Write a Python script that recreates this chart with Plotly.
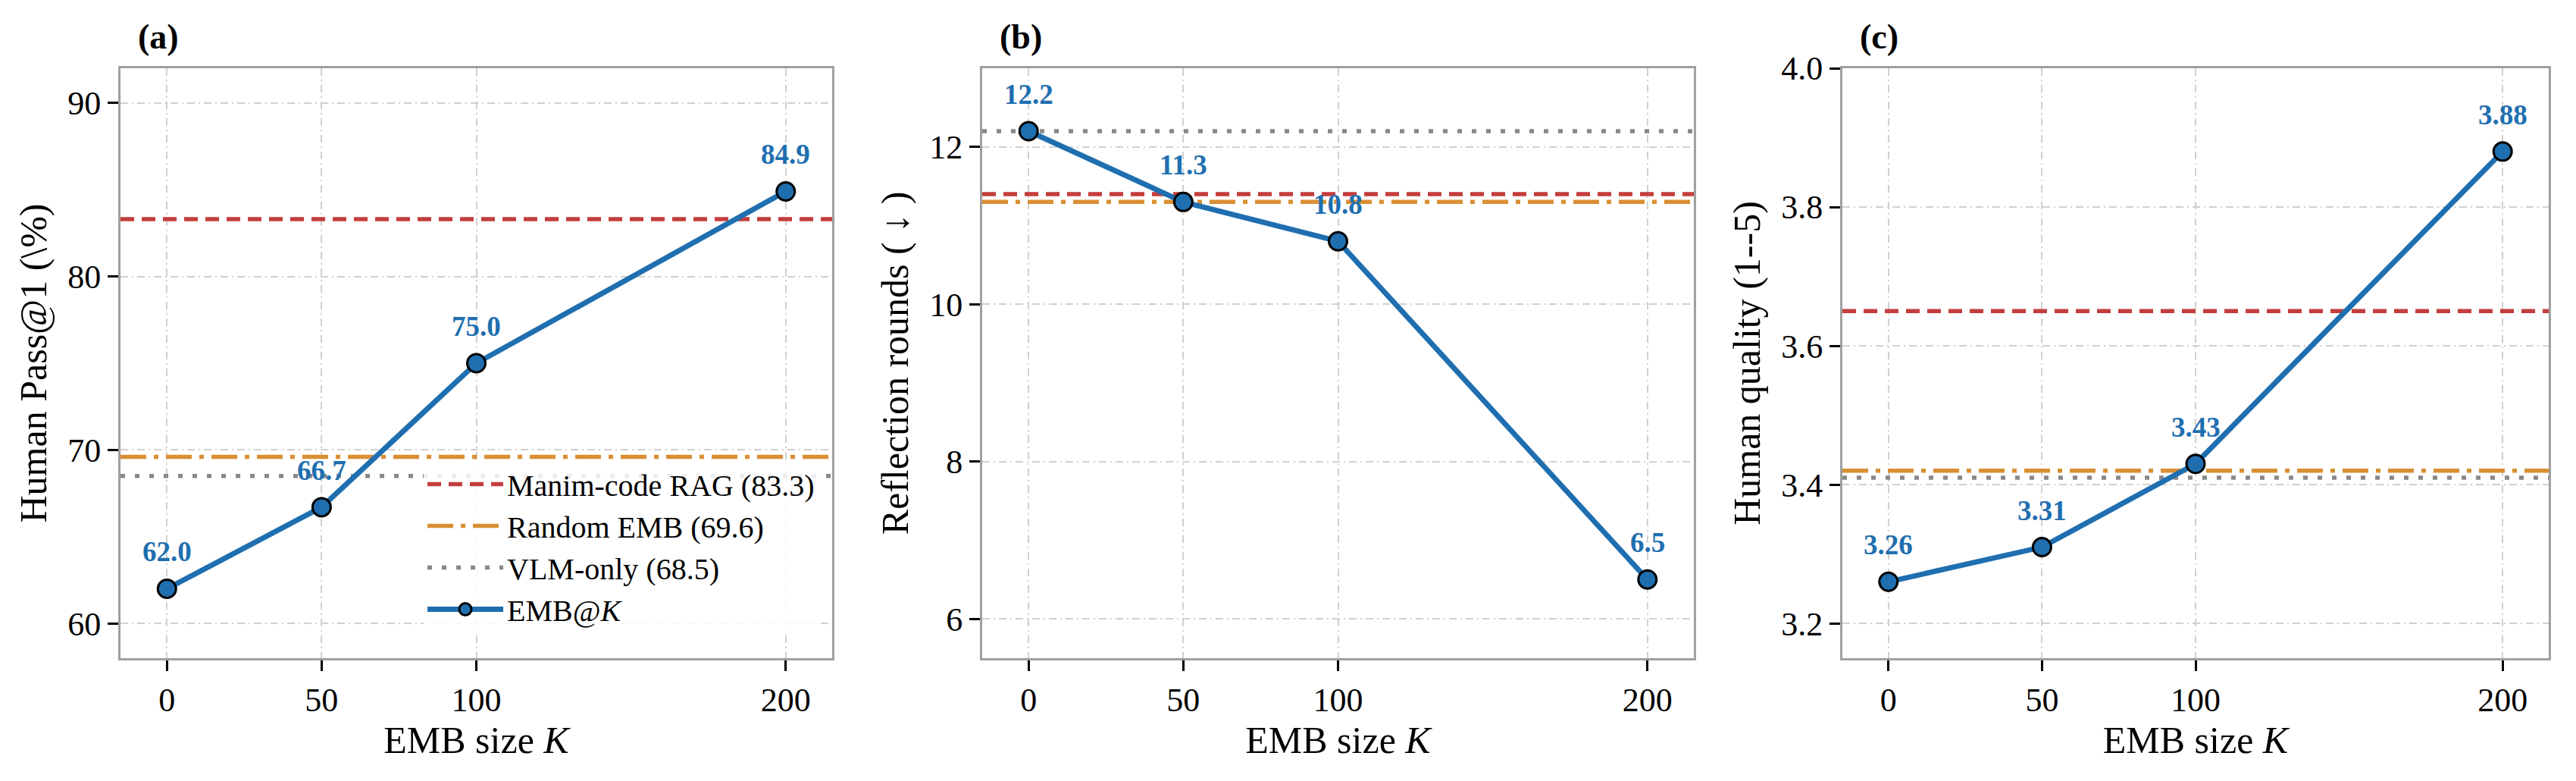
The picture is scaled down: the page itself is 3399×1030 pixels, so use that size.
import plotly.graph_objects as go

# ---------------- data ----------------
K_SIZES = [0, 50, 100, 200]

PASS_AT_1 = [62.0, 66.7, 75.0, 84.9]
REFLECTION_ROUNDS = [12.2, 11.3, 10.8, 6.5]
HUMAN_QUALITY = [3.26, 3.31, 3.43, 3.88]

BASELINE_NAMES = ["Manim-code RAG", "Random EMB", "VLM-only"]
BASE_PASS = [83.3, 69.6, 68.5]
BASE_ROUNDS = [11.4, 11.3, 12.2]
BASE_QUALITY = [3.65, 3.42, 3.41]

PANEL_TITLES = ["(a)", "(b)", "(c)"]
Y_TITLES = ["Human Pass@1 (\\%)", "Reflection rounds ( \u2193 )", "Human quality (1--5)"]
X_TITLE = "EMB size <i>K</i>"
LABEL_FMT = ["{:.1f}", "{:.1f}", "{:.2f}"]

X_TICKS = [0, 50, 100, 200]
Y_TICKS = [[60, 70, 80, 90], [6, 8, 10, 12], [3.2, 3.4, 3.6, 3.8, 4.0]]
Y_TICKFMT = ["d", "d", ".1f"]

X_RANGE = [-15, 215]
Y_RANGES = [[58, 92], [5.5, 13.0], [3.15, 4.0]]

# ---------------- style ----------------
W, H = 3399, 1030
FONT = "Liberation Serif"
BLUE = "#1f6fb0"
BASE_COLORS = ["#c43d3d", "#d98f33", "#888888"]
BASE_DASH = ["18px,10px", "34px,10px,6px,10px", "6px,13px"]
GRID = "#d0d0d0"
SPINE = "#a0a0a0"

X_DOMAINS = [[159 / W, 1098 / W], [1296 / W, 2235 / W], [2431 / W, 3363 / W]]
Y_DOMAIN = [1 - 868 / H, 1 - 90 / H]

series = [PASS_AT_1, REFLECTION_ROUNDS, HUMAN_QUALITY]
baselines = [BASE_PASS, BASE_ROUNDS, BASE_QUALITY]

fig = go.Figure()
annotations = []

for i in range(3):
    xa = "x" if i == 0 else f"x{i+1}"
    ya = "y" if i == 0 else f"y{i+1}"
    # baseline reference lines
    for j, name in enumerate(BASELINE_NAMES):
        v = baselines[i][j]
        fig.add_trace(go.Scatter(
            x=X_RANGE, y=[v, v], mode="lines",
            name=f"{name} ({BASE_PASS[j]:.1f})",
            line=dict(color=BASE_COLORS[j], width=5.5, dash=BASE_DASH[j]),
            showlegend=(i == 0), xaxis=xa, yaxis=ya, hoverinfo="skip",
        ))
    # main series
    fig.add_trace(go.Scatter(
        x=K_SIZES, y=series[i], mode="lines+markers",
        name="EMB@<i>K</i>",
        line=dict(color=BLUE, width=7),
        marker=dict(size=24, color=BLUE, line=dict(color="black", width=3)),
        showlegend=(i == 0), xaxis=xa, yaxis=ya,
    ))
    # value labels
    for k, v in zip(K_SIZES, series[i]):
        annotations.append(dict(
            x=k, y=v, xref=xa, yref=ya, text="<b>" + LABEL_FMT[i].format(v) + "</b>",
            showarrow=False, yanchor="bottom", xanchor="center", yshift=26,
            font=dict(family=FONT, size=37, color=BLUE),
        ))
    # panel titles
    annotations.append(dict(
        x=0.022, y=1.0, xref=f"{xa} domain", yref=f"{ya} domain",
        text="<b>" + PANEL_TITLES[i] + "</b>", showarrow=False,
        xanchor="left", yanchor="bottom", yshift=14,
        font=dict(family=FONT, size=46, color="black"),
    ))

axis_common = dict(
    showline=True, mirror=True, linecolor=SPINE, linewidth=3,
    ticks="outside", ticklen=14, tickwidth=3, tickcolor="black",
    showgrid=True, gridcolor=GRID, gridwidth=2, griddash="10px,5px,2px,5px",
    zeroline=False, automargin=False,
    tickfont=dict(family=FONT, size=44, color="black"),
)

layout = dict(
    width=W, height=H,
    margin=dict(l=0, r=0, t=0, b=0, pad=0, autoexpand=False),
    paper_bgcolor="white", plot_bgcolor="white",
    font=dict(family=FONT, color="black"),
    annotations=annotations,
    showlegend=True,
    legend=dict(
        x=1080 / W, y=1 - 836 / H, xanchor="right", yanchor="bottom",
        bgcolor="rgba(255,255,255,0.85)", borderwidth=0,
        font=dict(family=FONT, size=40, color="black"),
        itemwidth=100, tracegroupgap=0,
    ),
)

for i in range(3):
    xk = "xaxis" if i == 0 else f"xaxis{i+1}"
    yk = "yaxis" if i == 0 else f"yaxis{i+1}"
    ya = "y" if i == 0 else f"y{i+1}"
    xa = "x" if i == 0 else f"x{i+1}"
    layout[xk] = dict(
        axis_common, domain=X_DOMAINS[i], range=X_RANGE, anchor=ya,
        tickvals=X_TICKS,
        title=dict(text=X_TITLE, font=dict(family=FONT, size=50, color="black"), standoff=8),
    )
    layout[yk] = dict(
        axis_common, domain=Y_DOMAIN, range=Y_RANGES[i], anchor=xa,
        tickvals=Y_TICKS[i], tickformat=Y_TICKFMT[i],
        title=dict(text=Y_TITLES[i], font=dict(family=FONT, size=50, color="black"), standoff=12),
    )

fig.update_layout(**layout)
fig.write_html("out.html")
